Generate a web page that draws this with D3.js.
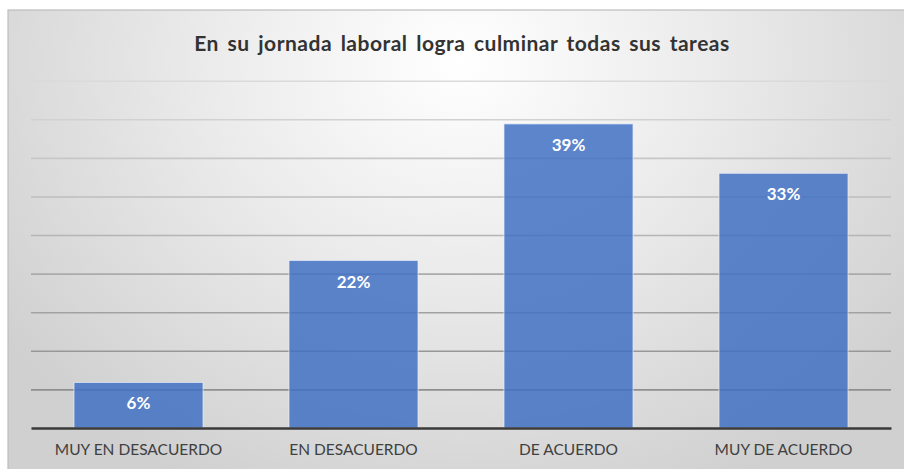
<!DOCTYPE html>
<meta charset="utf-8">
<style>
  body { margin: 0; background: #fff; }
  text { font-family: Lato, "Open Sans", sans-serif; }
</style>
<body>
<script src="https://cdn.jsdelivr.net/npm/d3@7"></script>
<script>

// chart data
var categories = ["MUY EN DESACUERDO", "EN DESACUERDO", "DE ACUERDO", "MUY DE ACUERDO"];
var values = [5.9, 21.7, 39.4, 33.0];
var labels = ["6%", "22%", "39%", "33%"];
var title = "En su jornada laboral logra culminar todas sus tareas";

var W = 904, H = 469;
var margin = {top: 80.7, right: 13, bottom: 41, left: 31},
    width = W - margin.left - margin.right,
    height = H - margin.top - margin.bottom;

var svg = d3.select("body").append("svg")
    .attr("width", W)
    .attr("height", H);

// background gradient, like the spreadsheet chart area
var defs = svg.append("defs");
var grad = defs.append("radialGradient")
    .attr("id", "bg")
    .attr("gradientUnits", "userSpaceOnUse")
    .attr("cx", 460).attr("cy", 60)
    .attr("r", 560)
    .attr("gradientTransform", "translate(460,60) scale(1,0.85) translate(-460,-60)");
grad.append("stop").attr("offset", "0%").attr("stop-color", "#ffffff");
grad.append("stop").attr("offset", "45%").attr("stop-color", "#ebebeb");
grad.append("stop").attr("offset", "100%").attr("stop-color", "#d0d0d0");

svg.append("rect")
    .attr("x", 8).attr("y", 10)
    .attr("width", W).attr("height", H)
    .attr("fill", "url(#bg)")
    .attr("stroke", "#bdbdbd")
    .attr("stroke-width", 1.2);

var g = svg.append("g")
    .attr("transform", "translate(" + margin.left + "," + margin.top + ")");

// scales
var x = d3.scaleBand()
    .domain(categories)
    .range([0, width])
    .paddingInner(0.4)
    .paddingOuter(0.2);

var y = d3.scaleLinear()
    .domain([0, 45])
    .range([height, 0]);

// gridlines (get darker toward the bottom)
var ticks = d3.range(5, 46, 5);
var gridColor = d3.scaleLinear().domain([5, 45]).range(["#8f8f8f", "#dadada"]);
g.append("g")
    .call(d3.axisLeft(y).tickValues(ticks).tickSize(-width).tickFormat(""))
    .call(function(s) {
      s.select(".domain").remove();
      s.selectAll(".tick line")
        .attr("stroke", function(d) { return gridColor(d); })
        .attr("stroke-width", 1.6);
    });

// bars
g.selectAll(".bar")
    .data(values)
  .enter().append("rect")
    .attr("class", "bar")
    .attr("x", function(d, i) { return x(categories[i]); })
    .attr("y", function(d) { return y(d); })
    .attr("width", x.bandwidth())
    .attr("height", function(d) { return height - y(d); })
    .attr("fill", "#3f6fc4")
    .attr("fill-opacity", 0.84)
    .attr("stroke", "#e8eef8")
    .attr("stroke-opacity", 0.7)
    .attr("stroke-width", 1);

// value labels
g.selectAll(".lbl")
    .data(values)
  .enter().append("text")
    .attr("class", "lbl")
    .attr("x", function(d, i) { return x(categories[i]) + x.bandwidth() / 2; })
    .attr("y", function(d) { return y(d) + 27; })
    .attr("text-anchor", "middle")
    .attr("fill", "#ffffff")
    .style("font-size", "17px")
    .style("font-weight", "bold")
    .text(function(d, i) { return labels[i]; });

// x axis
g.append("g")
    .attr("transform", "translate(0," + height + ")")
    .call(d3.axisBottom(x).tickSize(0).tickPadding(16))
    .call(function(s) {
      s.select(".domain").attr("stroke", "#3a3a3a").attr("stroke-width", 2.5);
      s.selectAll("text")
        .attr("fill", "#404040")
        .style("font-size", "15.5px")
        .style("font-family", "Lato, 'Open Sans', sans-serif");
    });

// title
svg.append("text")
    .attr("x", 462)
    .attr("y", 51)
    .attr("text-anchor", "middle")
    .attr("fill", "#333333")
    .style("font-size", "21px")
    .style("font-weight", "bold")
    .style("letter-spacing", "0.5px")
    .style("word-spacing", "3px")
    .text(title);

</script>
</body>
